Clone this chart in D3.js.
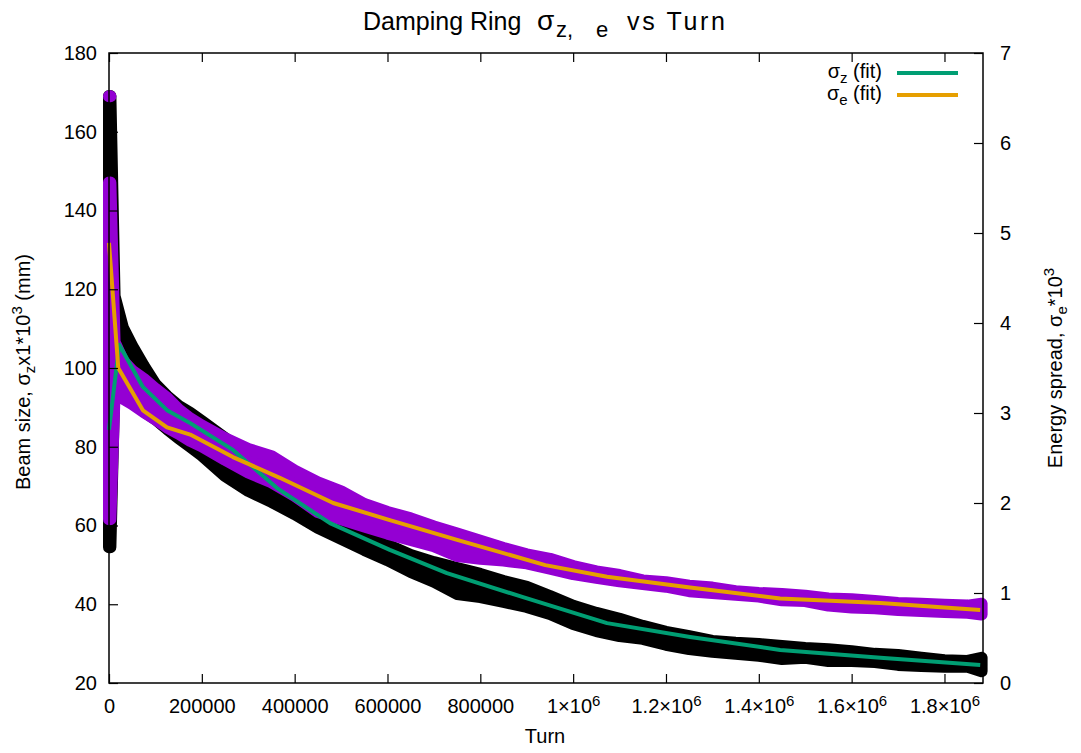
<!DOCTYPE html>
<html>
<head>
<meta charset="utf-8">
<script src="https://cdn.jsdelivr.net/npm/d3@7/dist/d3.min.js"></script>
<style>
  body { margin: 0; background: #fff; }
  svg { font-family: "Liberation Sans", Arial, Helvetica, sans-serif; }
</style>
</head>
<body>
<div id="container"></div>
<script>
var turns = [0, 3000, 12000, 30000, 50000, 75000, 100000, 125000, 150000, 175000, 200000,
  250000, 300000, 350000, 400000, 450000, 500000, 550000, 600000, 650000, 700000,
  750000, 800000, 850000, 900000, 950000, 1000000, 1050000, 1100000, 1150000, 1200000,
  1250000, 1300000, 1350000, 1400000, 1450000, 1500000, 1550000, 1600000, 1650000, 1700000,
  1750000, 1800000, 1850000, 1880000];

// sigma_z points (left axis), upper / lower extent
var sigmaZHi = [169.1, 169.1, 118.3, 110.2, 105.6, 100.5, 95.9, 92.9, 90.4, 88.6, 86.5,
  82.2, 77.7, 73.1, 68.8, 65.0, 61.9, 58.4, 55.1, 52.5, 50.7,
  49.2, 47.7, 45.9, 44.4, 42.1, 39.6, 37.8, 36.3, 34.5, 33.0,
  31.9, 30.7, 30.2, 29.9, 29.4, 28.9, 28.6, 28.1, 27.4, 27.1,
  26.4, 25.8, 25.6, 26.4];
var sigmaZLo = [54.5, 54.5, 97.5, 94.0, 91.5, 89.0, 87.0, 84.5, 82.2, 80.0, 77.8,
  72.6, 68.8, 66.0, 62.9, 59.4, 56.6, 53.8, 51.2, 48.2, 45.7,
  42.6, 41.8, 40.6, 39.3, 37.5, 35.0, 33.2, 31.9, 31.2, 29.7,
  28.6, 27.9, 27.4, 26.9, 26.1, 26.4, 25.6, 25.6, 25.3, 24.6,
  24.3, 24.1, 24.1, 23.0];

// sigma_e points (right axis), upper / lower extent
var sigmaEHi = [5.56, 5.56, 3.79, 3.58, 3.47, 3.38, 3.27, 3.17, 3.04, 2.94, 2.86,
  2.72, 2.60, 2.52, 2.36, 2.23, 2.13, 1.99, 1.90, 1.83, 1.74,
  1.66, 1.58, 1.50, 1.43, 1.38, 1.30, 1.24, 1.20, 1.14, 1.12,
  1.08, 1.06, 1.02, 1.00, 0.99, 0.97, 0.94, 0.93, 0.91, 0.89,
  0.88, 0.87, 0.86, 0.88];
var sigmaELo = [1.82, 1.82, 3.21, 3.16, 3.10, 3.01, 2.93, 2.84, 2.77, 2.69, 2.63,
  2.48, 2.34, 2.23, 2.08, 1.90, 1.82, 1.74, 1.66, 1.59, 1.52,
  1.41, 1.38, 1.36, 1.33, 1.27, 1.21, 1.17, 1.13, 1.10, 1.07,
  1.02, 1.00, 0.98, 0.96, 0.92, 0.91, 0.86, 0.84, 0.83, 0.81,
  0.80, 0.79, 0.78, 0.76];

// a few sigma_e points sitting on top of the first-turn spike
var capTurns = [0, 3000];
var sigmaECap = [6.52, 6.52];

// fitted curves
var fitZTurns = [0, 22000, 73000, 125000, 175000, 267000, 362000, 476000, 605000, 728000,
  892000, 1073000, 1252000, 1446000, 1662000, 1877000];
var fitZ = [84.3, 105.9, 95.2, 89.3, 86.0, 79.2, 69.5, 60.6, 53.8, 47.9,
  41.8, 35.2, 31.7, 28.4, 26.4, 24.6];
var fitETurns = [0, 20000, 73000, 125000, 175000, 267000, 368000, 483000, 605000, 750000,
  940000, 1073000, 1252000, 1446000, 1662000, 1877000];
var fitE = [4.89, 3.50, 3.03, 2.84, 2.76, 2.51, 2.28, 2.00, 1.81, 1.59,
  1.31, 1.18, 1.06, 0.94, 0.89, 0.81];

var xTicks = [0, 200000, 400000, 600000, 800000, 1000000, 1200000, 1400000, 1600000, 1800000];
var yTicks = [20, 40, 60, 80, 100, 120, 140, 160, 180];
var y2Ticks = [0, 1, 2, 3, 4, 5, 6, 7];

var W = 1081, H = 753;
var margin = {top: 53, right: 98, bottom: 70, left: 109},
    width = W - margin.left - margin.right,
    height = H - margin.top - margin.bottom;

var colors = {z: '#000000', e: '#9400d3', fitZ: '#009e73', fitE: '#e69f00'};
var R = 6; // point radius

var svg = d3.select("#container")
  .append("svg")
    .attr("width", W)
    .attr("height", H);

var g = svg.append("g")
    .attr("transform", "translate(" + margin.left + "," + margin.top + ")");

var x = d3.scaleLinear().domain([0, 1883000]).range([0, width]);
var y = d3.scaleLinear().domain([20, 180]).range([height, 0]);
var y2 = d3.scaleLinear().domain([0, 7]).range([height, 0]);

// point bands: an area filled and stroked with a round join gives the edge of the point cloud
function band(hi, lo, sc) {
  return d3.area()
    .x(function(d, i) { return x(turns[i]); })
    .y0(function(d, i) { return sc(lo[i]); })
    .y1(function(d, i) { return sc(hi[i]); })(turns);
}

g.append("path")
  .attr("d", band(sigmaZHi, sigmaZLo, y))
  .attr("fill", colors.z)
  .attr("stroke", colors.z)
  .attr("stroke-width", 2 * R)
  .attr("stroke-linejoin", "round");

g.append("path")
  .attr("d", band(sigmaEHi, sigmaELo, y2))
  .attr("fill", colors.e)
  .attr("stroke", colors.e)
  .attr("stroke-width", 2 * R)
  .attr("stroke-linejoin", "round");

g.selectAll("circle.cap")
  .data(capTurns)
  .enter()
  .append("circle")
  .attr("class", "cap")
  .attr("cx", function(d) { return x(d); })
  .attr("cy", function(d, i) { return y2(sigmaECap[i]); })
  .attr("r", R)
  .attr("fill", colors.e);

// fits
var lineZ = d3.line()
  .x(function(d) { return x(d); })
  .y(function(d, i) { return y(fitZ[i]); });
var lineE = d3.line()
  .x(function(d) { return x(d); })
  .y(function(d, i) { return y2(fitE[i]); });

g.append("path")
  .attr("d", lineZ(fitZTurns))
  .attr("fill", "none")
  .attr("stroke", colors.fitZ)
  .attr("stroke-width", 4)
  .attr("stroke-linejoin", "round");

g.append("path")
  .attr("d", lineE(fitETurns))
  .attr("fill", "none")
  .attr("stroke", colors.fitE)
  .attr("stroke-width", 4)
  .attr("stroke-linejoin", "round");

// axes (ticks point inward, like gnuplot)
function styleAxis(ax) {
  ax.select(".domain").remove();
  ax.selectAll(".tick line").attr("stroke", "#000").attr("stroke-width", 1.2);
  ax.selectAll(".tick text").attr("fill", "#000").style("font-size", "20px");
}

var xAxis = g.append("g")
  .attr("transform", "translate(0," + height + ")")
  .call(d3.axisBottom(x).tickValues(xTicks).tickSize(-9).tickPadding(16));
styleAxis(xAxis);
xAxis.selectAll(".tick text").each(function(d) {
  var t = d3.select(this).text("");
  if (d < 1000000) {
    t.text(d);
  } else {
    t.append("tspan").text(+(d / 1e6).toFixed(1) + "\u00d710");
    t.append("tspan").attr("dy", "-0.45em").style("font-size", "15px").text("6");
  }
});

var xTop = g.append("g")
  .call(d3.axisTop(x).tickValues(xTicks).tickSize(-9).tickFormat(""));
styleAxis(xTop);

var yAxis = g.append("g")
  .call(d3.axisLeft(y).tickValues(yTicks).tickSize(-9).tickPadding(12));
styleAxis(yAxis);

var y2Axis = g.append("g")
  .attr("transform", "translate(" + width + ",0)")
  .call(d3.axisRight(y2).tickValues(y2Ticks).tickFormat(d3.format("d")).tickSize(-9).tickPadding(17));
styleAxis(y2Axis);

g.append("rect")
  .attr("width", width)
  .attr("height", height)
  .attr("fill", "none")
  .attr("stroke", "#000")
  .attr("stroke-width", 1.5);

// title
var title = svg.append("text")
  .attr("y", 30)
  .style("font-size", "25px");
title.append("tspan").attr("x", 363).text("Damping Ring");
title.append("tspan").attr("x", 537).style("font-size", "28px").text("\u03c3");
title.append("tspan").attr("x", 556).attr("dy", 7).style("font-size", "22px").text("z,");
title.append("tspan").attr("x", 596).style("font-size", "22px").text("e");
title.append("tspan").attr("x", 627).attr("dy", -7)
  .attr("textLength", 98).attr("lengthAdjust", "spacing").text("vs Turn");

// axis labels
svg.append("text")
  .attr("x", margin.left + width / 2 - 1)
  .attr("y", 743)
  .attr("text-anchor", "middle")
  .style("font-size", "20px")
  .text("Turn");

var yl = svg.append("text")
  .attr("transform", "translate(30," + (margin.top + height / 2 + 4) + ") rotate(-90)")
  .attr("text-anchor", "middle")
  .style("font-size", "20px");
yl.append("tspan").text("Beam size, \u03c3");
yl.append("tspan").attr("dy", 5).style("font-size", "15px").text("z");
yl.append("tspan").attr("dy", -5).text("x1*10");
yl.append("tspan").attr("dy", -8).style("font-size", "15px").text("3");
yl.append("tspan").attr("dy", 8).text(" (mm)");

var yr = svg.append("text")
  .attr("transform", "translate(1062," + (margin.top + height / 2) + ") rotate(-90)")
  .attr("text-anchor", "middle")
  .style("font-size", "20px");
yr.append("tspan").text("Energy spread, \u03c3");
yr.append("tspan").attr("dy", 5).style("font-size", "15px").text("e");
yr.append("tspan").attr("dy", -5).text("*10");
yr.append("tspan").attr("dy", -8).style("font-size", "15px").text("3");

// legend
var legend = [
  {sub: "z", color: colors.fitZ, y: 73},
  {sub: "e", color: colors.fitE, y: 95}
];
legend.forEach(function(l) {
  var t = svg.append("text")
    .attr("x", 882)
    .attr("y", l.y + 5)
    .attr("text-anchor", "end")
    .style("font-size", "20px");
  t.append("tspan").text("\u03c3");
  t.append("tspan").attr("dy", 5).style("font-size", "15px").text(l.sub);
  t.append("tspan").attr("dy", -5).text(" (fit)");
  svg.append("line")
    .attr("x1", 897).attr("x2", 958)
    .attr("y1", l.y).attr("y2", l.y)
    .attr("stroke", l.color)
    .attr("stroke-width", 4);
});
</script>
</body>
</html>
